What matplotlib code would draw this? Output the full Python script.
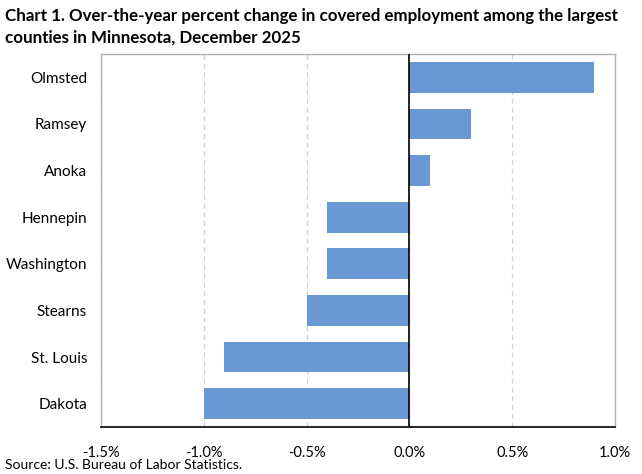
import matplotlib.pyplot as plt
from matplotlib.ticker import FuncFormatter

# data
counties = ["Olmsted", "Ramsey", "Anoka", "Hennepin", "Washington", "Stearns", "St. Louis", "Dakota"]
pct_change = [0.9, 0.3, 0.1, -0.4, -0.4, -0.5, -0.9, -1.0]
x_ticks = [-1.5, -1.0, -0.5, 0.0, 0.5, 1.0]

plt.rcParams['font.family'] = ['Lato', 'DejaVu Sans']

W, H = 642, 474
fig = plt.figure(figsize=(W / 100, H / 100), dpi=100)
ax = fig.add_axes([101 / W, 1 - 427 / H, (615 - 101) / W, (427 - 54) / H])

ypos = list(range(len(counties)))
ax.barh(ypos, pct_change, height=0.66, color='#6a98d4', zorder=3)
ax.set_ylim(len(counties) - 0.5, -0.5)
ax.set_yticks(ypos)
ax.set_yticklabels(counties, fontsize=11)
ax.set_xlim(-1.5, 1.0)
ax.set_xticks(x_ticks)
ax.xaxis.set_major_formatter(FuncFormatter(lambda v, p: f"{v:.1f}%"))
ax.tick_params(axis='x', labelsize=10.5, length=0, pad=14)
ax.tick_params(axis='y', length=0, pad=10)

ax.grid(axis='x', color='#d0d0d0', linestyle=(0, (4, 3)), linewidth=0.9, zorder=0)
ax.axvline(0, color='black', linewidth=1.2, zorder=4)

for s in ['left', 'right', 'top']:
    ax.spines[s].set_color('#b0b0b0')
    ax.spines[s].set_linewidth(1.0)
ax.spines['bottom'].set_color('black')
ax.spines['bottom'].set_linewidth(1.2)

fig.text(5 / W, 1 - 21 / H, "Chart 1. Over-the-year percent change in covered employment among the largest",
         fontsize=12.2, fontweight='bold', va='baseline', ha='left')
fig.text(5 / W, 1 - 43 / H, "counties in Minnesota, December 2025",
         fontsize=12.2, fontweight='bold', va='baseline', ha='left')
fig.text(5 / W, 1 - 469 / H, "Source: U.S. Bureau of Labor Statistics.",
         fontsize=10, va='baseline', ha='left')

fig.savefig("out.png", dpi=100)
